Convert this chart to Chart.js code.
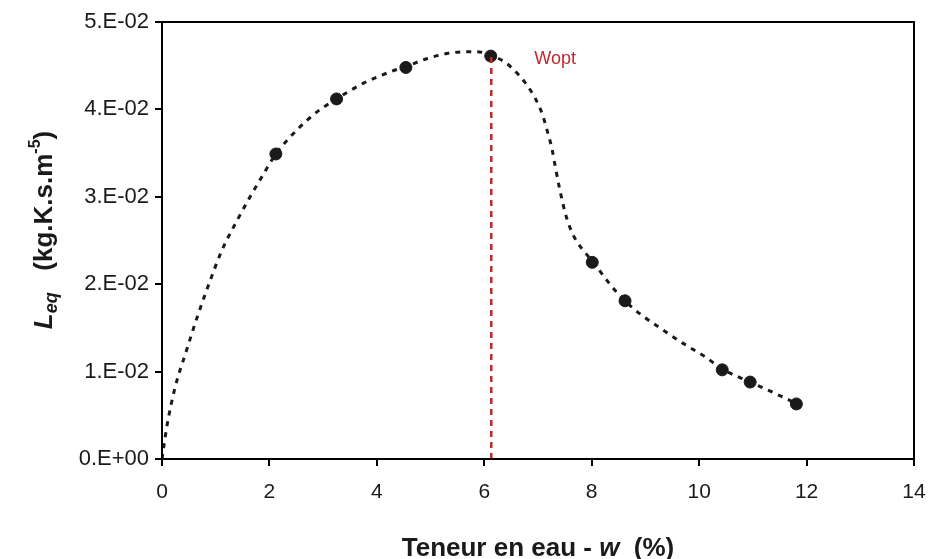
<!DOCTYPE html>
<html>
<head>
<meta charset="utf-8">
<script src="https://cdn.jsdelivr.net/npm/chart.js@4/dist/chart.umd.min.js"></script>
<style>
  body { margin: 0; background: #fff; }
  #wrap { width: 930px; height: 559px; }
</style>
</head>
<body>
<div id="wrap"><canvas id="leqChart" width="930" height="559"></canvas></div>
<script>
/* measured points : water content w (%) vs Leq */
const pointW   = [2.12, 3.25, 4.54, 6.12, 8.01, 8.62, 10.43, 10.95, 11.81];
const pointLeq = [0.0349, 0.0412, 0.0448, 0.0461, 0.0225, 0.0181, 0.0102, 0.0088, 0.0063];

/* fitted curve */
const curveW   = [0, 0.09, 0.24, 0.46, 0.67, 0.89, 1.11, 1.39, 1.64, 1.86, 2.12, 2.38, 2.69, 2.97, 3.25, 3.75, 4.25, 4.54, 4.93, 5.42, 5.86, 6.12, 6.36, 6.54, 6.73, 6.88, 7.01, 7.09, 7.16, 7.26, 7.32, 7.40, 7.50, 7.60, 7.72, 7.88, 8.03, 8.34, 8.62, 8.90, 9.27, 9.71, 10.11, 10.43, 10.95, 11.45, 11.81, 11.90];
const curveLeq = [0, 0.0037, 0.0081, 0.0125, 0.0165, 0.0203, 0.0238, 0.0272, 0.0300, 0.0323, 0.0349, 0.0368, 0.0387, 0.0401, 0.0412, 0.0430, 0.0443, 0.0449, 0.0458, 0.0465, 0.0466, 0.0462, 0.0455, 0.0446, 0.0433, 0.0420, 0.0405, 0.0393, 0.0378, 0.0355, 0.0335, 0.0310, 0.0283, 0.0264, 0.0249, 0.0236, 0.0225, 0.0200, 0.0181, 0.0166, 0.0150, 0.0132, 0.0117, 0.0103, 0.0088, 0.0074, 0.0063, 0.0059];

/* optimum water content marker */
const woptW   = [6.13, 6.13];
const woptLeq = [0, 0.0466];

/* axis ticks */
const xTicks      = [0, 2, 4, 6, 8, 10, 12, 14];
const yTickLabels = ["0.E+00", "1.E-02", "2.E-02", "3.E-02", "4.E-02", "5.E-02"];

const toXY = (xs, ys) => xs.map((x, i) => ({ x: x, y: ys[i] }));

const FONT = "'Liberation Sans', Arial, sans-serif";

/* frame, titles and the Wopt label */
const decorPlugin = {
  id: "decor",
  afterDraw(chart) {
    const ctx = chart.ctx;
    const a = chart.chartArea;
    const xs = chart.scales.x, ys = chart.scales.y;
    ctx.save();

    // box around the plot
    ctx.strokeStyle = "#000";
    ctx.lineWidth = 2;
    ctx.strokeRect(a.left, a.top, a.right - a.left, a.bottom - a.top);

    // Wopt label
    ctx.fillStyle = "#c1272d";
    ctx.font = "18px " + FONT;
    ctx.textBaseline = "alphabetic";
    ctx.fillText("Wopt", xs.getPixelForValue(woptW[1]) + 43, ys.getPixelForValue(woptLeq[1]) + 12);

    // x title: "Teneur en eau - w (%)"
    ctx.fillStyle = "#1a1a1a";
    const bold = "bold 26px " + FONT;
    const boldIt = "italic bold 26px " + FONT;
    const xParts = [["Teneur en eau - ", bold], ["w", boldIt], ["  (%)", bold]];
    let total = 0;
    xParts.forEach(p => { ctx.font = p[1]; total += ctx.measureText(p[0]).width; });
    let cx = (a.left + a.right) / 2 - total / 2;
    xParts.forEach(p => {
      ctx.font = p[1];
      ctx.fillText(p[0], cx, 556);
      cx += ctx.measureText(p[0]).width;
    });

    // y title: "Leq (kg.K.s.m-5)"
    const small = "italic bold 18px " + FONT;
    const sup = "bold 16px " + FONT;
    const yParts = [["L", boldIt, 0], ["eq", small, 5], ["   (kg.K.s.m", bold, 0], ["-5", sup, -12], [")", bold, 0]];
    total = 0;
    yParts.forEach(p => { ctx.font = p[1]; total += ctx.measureText(p[0]).width; });
    ctx.translate(52, 230);
    ctx.rotate(-Math.PI / 2);
    let px = -total / 2;
    yParts.forEach(p => {
      ctx.font = p[1];
      ctx.fillText(p[0], px, p[2]);
      px += ctx.measureText(p[0]).width;
    });
    ctx.restore();
  }
};

new Chart(document.getElementById("leqChart"), {
  type: "scatter",
  data: {
    datasets: [
      {
        label: "Wopt",
        data: toXY(woptW, woptLeq),
        showLine: true,
        borderColor: "#c1272d",
        borderWidth: 2.5,
        borderDash: [6, 5],
        pointRadius: 0
      },
      {
        label: "fit",
        data: toXY(curveW, curveLeq),
        showLine: true,
        borderColor: "#1a1a1a",
        borderWidth: 3,
        borderDash: [5, 6],
        cubicInterpolationMode: "monotone",
        pointRadius: 0
      },
      {
        label: "Leq",
        data: toXY(pointW, pointLeq),
        backgroundColor: "#1a1a1a",
        borderColor: "#1a1a1a",
        pointRadius: 6
      }
    ]
  },
  options: {
    responsive: false,
    animation: false,
    devicePixelRatio: 1,
    layout: { padding: { top: 22, right: 16, left: 0, bottom: 0 } },
    plugins: {
      legend: { display: false },
      tooltip: { enabled: false }
    },
    scales: {
      x: {
        type: "linear",
        min: 0,
        max: 14,
        afterFit: s => { s.height = 100; s.paddingLeft = 0; s.paddingRight = 0; },
        afterBuildTicks: s => { s.ticks = xTicks.map(v => ({ value: v })); },
        grid: { drawOnChartArea: false, tickLength: 7, color: "#000", lineWidth: 2 },
        border: { color: "#000", width: 2 },
        ticks: {
          color: "#1a1a1a",
          padding: 14,
          font: { family: FONT, size: 21 }
        }
      },
      y: {
        min: 0,
        max: 0.05,
        afterFit: s => { s.width = 162; s.paddingTop = 0; s.paddingBottom = 0; },
        afterBuildTicks: s => { s.ticks = yTickLabels.map((t, i) => ({ value: i * 0.01 })); },
        grid: { drawOnChartArea: false, tickLength: 7, color: "#000", lineWidth: 2 },
        border: { color: "#000", width: 2 },
        ticks: {
          color: "#1a1a1a",
          padding: 6,
          font: { family: FONT, size: 22 },
          callback: (v, i) => yTickLabels[i]
        }
      }
    }
  },
  plugins: [decorPlugin]
});
</script>
</body>
</html>
